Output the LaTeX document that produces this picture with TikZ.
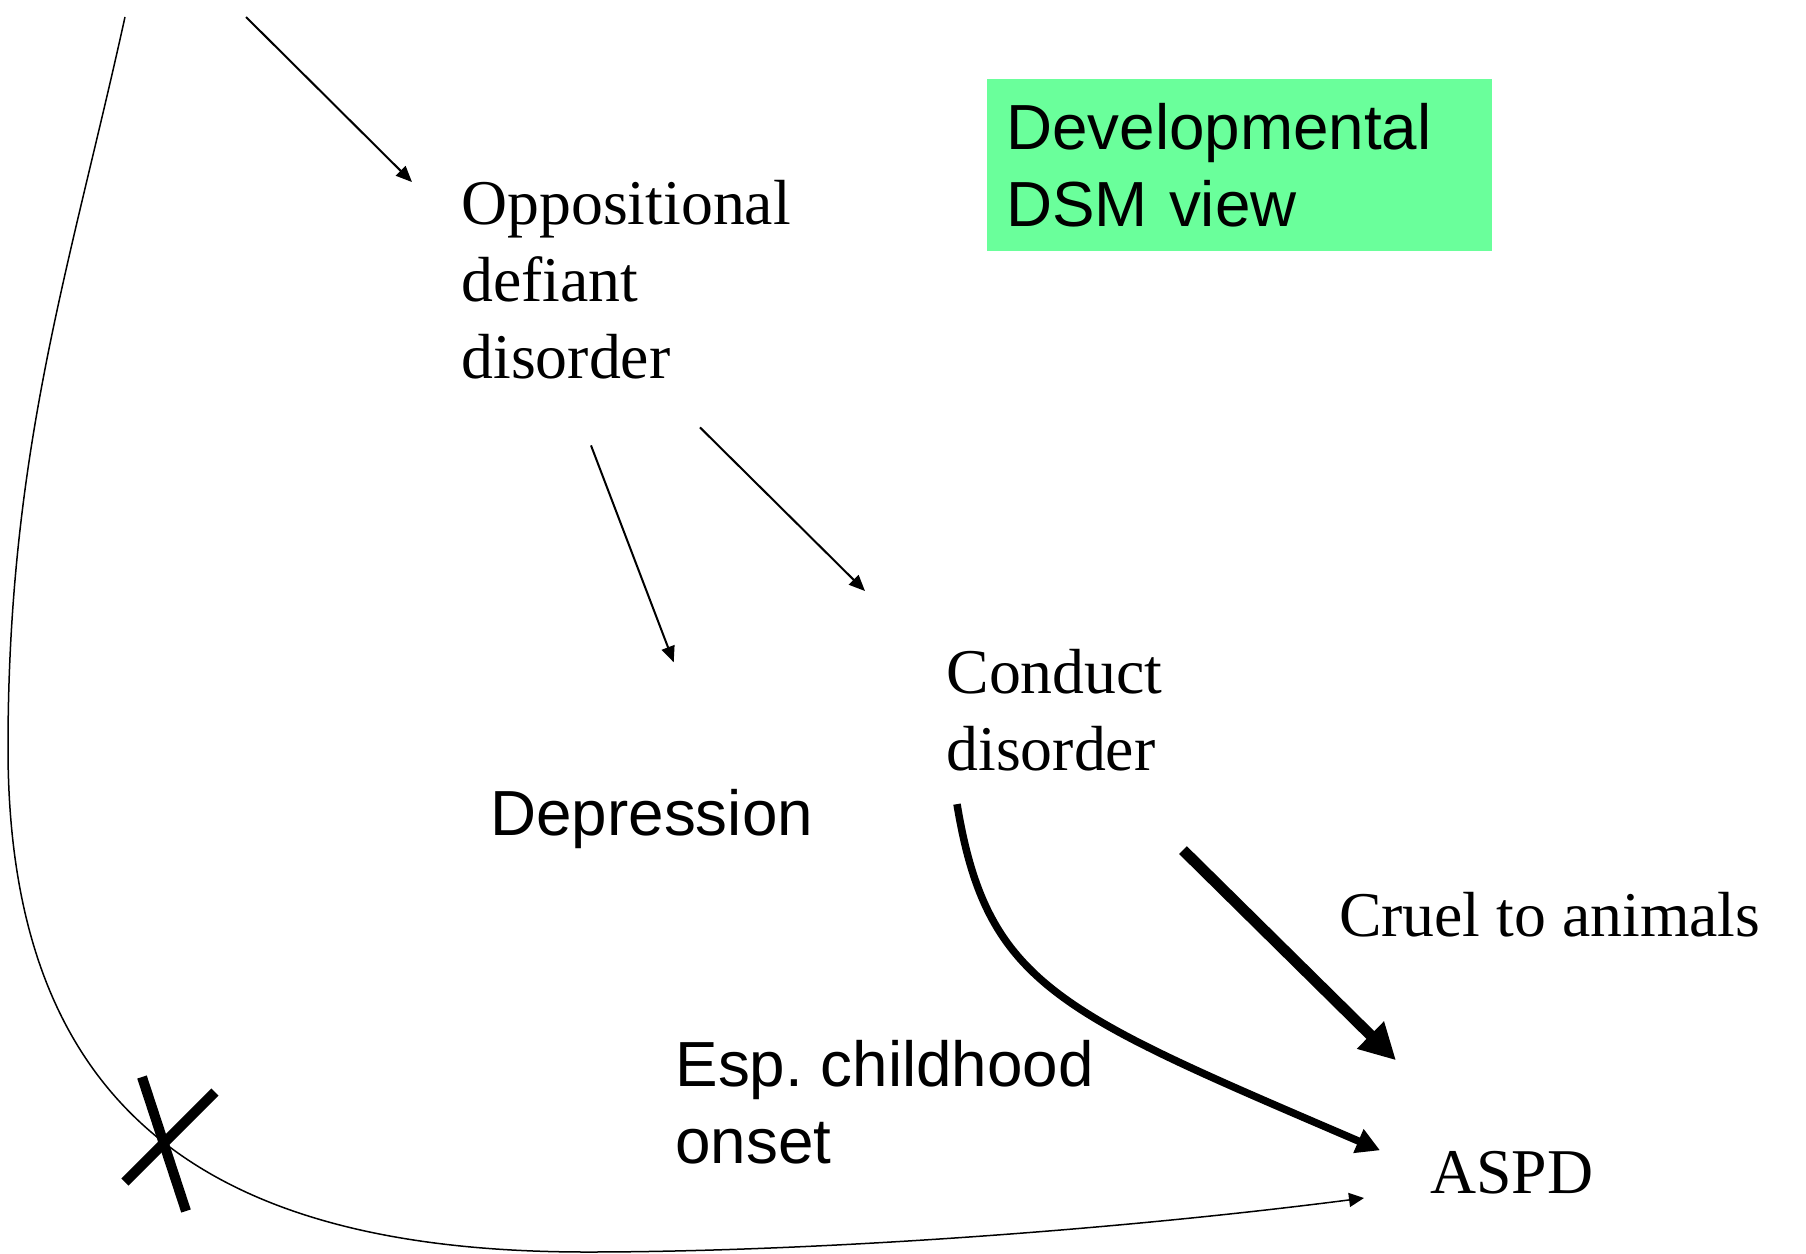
\documentclass[tikz,border=0pt]{standalone}
\usepackage{fontspec}
\setmainfont{Liberation Serif}
\setsansfont{Liberation Sans}
\usetikzlibrary{arrows.meta}
\definecolor{dsmgreen}{RGB}{106,255,155}
\tikzset{lbl/.style={inner sep=0pt, anchor=base west, align=left, font=\fontsize{25.5}{30.7}\selectfont}}
\tikzset{slbl/.style={lbl, font=\fontsize{25.5}{30.7}\selectfont\sffamily}}
\tikzset{arr/.style={line width=0.8pt, -{Triangle[length=6.4pt, width=5.4pt]}}}
\tikzset{midarr/.style={line width=3pt, -{Triangle[length=9.4pt, width=9.8pt]}}}
\tikzset{bigarr/.style={line width=4.4pt, -{Triangle[length=14.4pt, width=14.4pt]}}}
\tikzset{cross/.style={line width=4pt}}
\tikzset{dsmbox/.style={
   anchor=north west, fill=dsmgreen, align=left,
   font=\fontsize{25.5}{30.7}\selectfont\sffamily,
   text width=186.6pt, inner xsep=7.6pt, inner ysep=0pt,
   minimum height=69pt
}}

\begin{document}
\begin{tikzpicture}[x=0.4pt, y=-0.4pt]
  \useasboundingbox (0,0) rectangle (1806,1253);

  \node[dsmbox] (dsm) at (986.7,78.3) {Developmental\\DSM view};

  % multi-line labels sit on their last baseline
  \node[lbl] (odd) at (461,378.3) {Oppositional\\defiant\\disorder};
  \node[slbl] (dep) at (490,835) {Depression};
  \node[lbl] (cd) at (946,770) {Conduct\\disorder};
  \node[lbl] (cruel) at (1338.5,936) {Cruel to animals};
  \node[slbl] (esp) at (675,1163.3) {Esp.\ childhood\\onset};
  \node[lbl] (aspd) at (1430,1193) {ASPD};

  \coordinate (topL) at (125,17);
  \coordinate (topR) at (246,17);

  \draw[arr] (topR) -- ([shift={(-49,2)}]odd.north west);
  \draw[arr] ([shift={(130,66)}]odd.south west) -- ([shift={(22,-126)}]dep.north);
  \draw[arr] ([shift={(239,48)}]odd.south west) -- ([shift={(-81,-57.5)}]cd.north west);

  \draw[midarr] ([shift={(11,33)}]cd.south west)
     .. controls +(30,182) and +(-321,-138) .. ([shift={(-50,0)}]aspd.north west);
  \draw[bigarr] ([shift={(237,79)}]cd.south west) -- ([shift={(-34,-90)}]aspd.north west);

  \draw[line width=0.6pt, -{Triangle[length=6pt, width=5.6pt]}] (topL)
     .. controls (70,267) and (8,450) .. (8,748)
     .. controls (8,1118) and (218,1252) .. (587,1252)
     .. controls (800,1252) and (1100,1232) .. ([shift={(-66,5)}]aspd.base west);

  % the X on the curve
  \draw[cross] (142,1077) -- (186,1211);
  \draw[cross] (215,1092) -- (125,1182);

\end{tikzpicture}
\end{document}
